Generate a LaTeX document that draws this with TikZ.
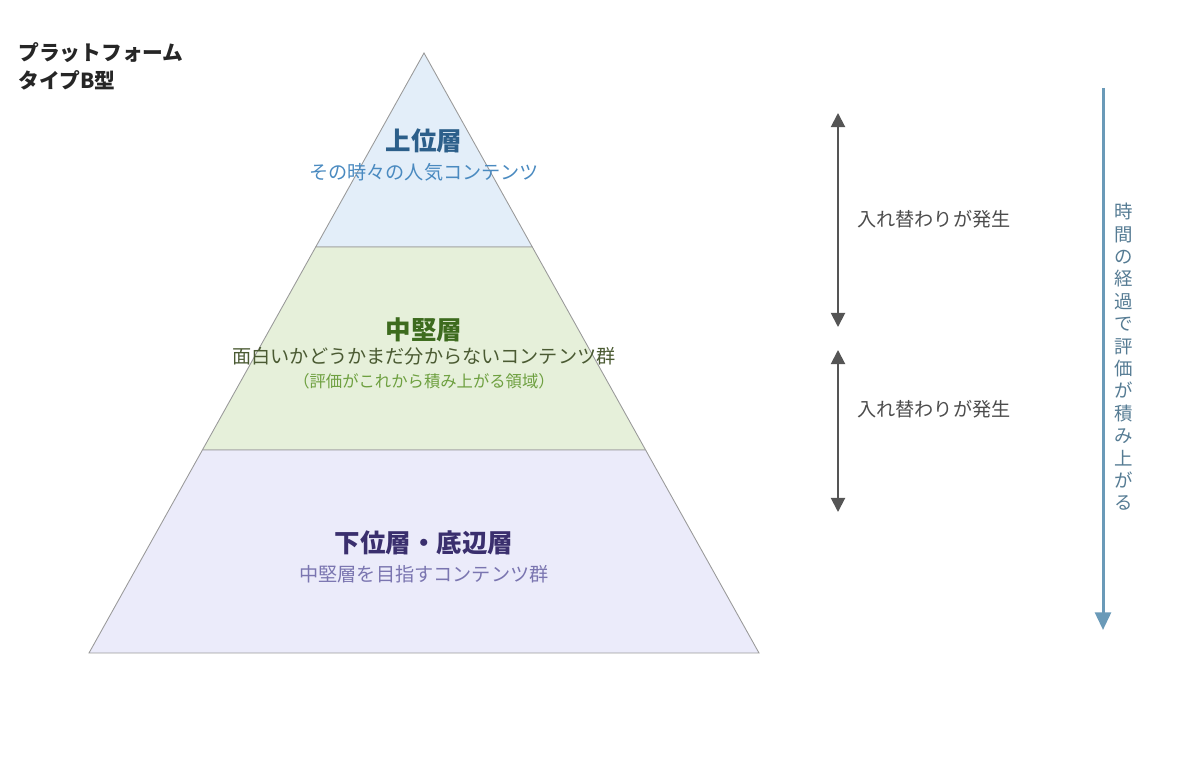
\documentclass[tikz,border=0pt]{standalone}
\usepackage{fontspec}
\setmainfont{Noto Sans CJK JP}
\usetikzlibrary{arrows.meta}

\definecolor{topfill}{HTML}{E3EEF9}
\definecolor{midfill}{HTML}{E6F0DA}
\definecolor{lowfill}{HTML}{EBEBFA}
\definecolor{edgegray}{HTML}{9A9A9A}
\definecolor{topdark}{HTML}{2C5F8A}
\definecolor{toplight}{HTML}{4A8AC0}
\definecolor{middark}{HTML}{3D6B1E}
\definecolor{midtext}{HTML}{4A5A32}
\definecolor{midlight}{HTML}{6EA040}
\definecolor{lowdark}{HTML}{3A2F6E}
\definecolor{lowlight}{HTML}{7A75B0}
\definecolor{swapgray}{HTML}{555555}
\definecolor{timeblue}{HTML}{6A9AB8}

\tikzset{
  layer/.style={draw=edgegray,line width=0.5pt},
  heading/.style={font=\fontsize{14.5}{17}\selectfont\bfseries,inner sep=0pt},
  subline/.style={font=\fontsize{10.9}{13}\selectfont,inner sep=0pt},
  swaparrow/.style={swapgray,line width=1.1pt,{Triangle[width=8pt,length=8pt]}-{Triangle[width=8pt,length=8pt]}},
  swaplabel/.style={font=\fontsize{10.9}{13}\selectfont,text=swapgray!90!black,inner sep=0pt,anchor=west},
}

\begin{document}
\begin{tikzpicture}[x=0.02cm,y=-0.02cm]
  \useasboundingbox (0,0) rectangle (1200,759);

  % title
  \node[font=\fontsize{11.8}{15.8}\selectfont\bfseries,text=black!85,align=left,anchor=north west,inner sep=0pt] (title) at (18,42) {プラットフォーム\\タイプB型};

  % pyramid layers
  \coordinate (apex) at (424,53);
  \coordinate (tl) at (315.7,247);
  \coordinate (tr) at (532.3,247);
  \coordinate (ml) at (202.4,450);
  \coordinate (mr) at (645.6,450);
  \coordinate (bl) at (89,653);
  \coordinate (br) at (759,653);
  \draw[layer,fill=topfill] (apex) -- (tr) -- (tl) -- cycle;
  \draw[layer,fill=midfill] (tl) -- (tr) -- (mr) -- (ml) -- cycle;
  \draw[layer,fill=lowfill] (ml) -- (mr) -- (br) -- (bl) -- cycle;

  % top layer text
  \node[heading,text=topdark] (tophead) at (424,141) {上位層};
  \node[subline,text=toplight] (topsub) at (424,172) {その時々の人気コンテンツ};

  % middle layer text
  \node[heading,text=middark] (midhead) at (424,330) {中堅層};
  \node[subline,text=midtext] (midsub) at (424,356) {面白いかどうかまだ分からないコンテンツ群};
  \node[font=\fontsize{9.3}{11}\selectfont,text=midlight,inner sep=0pt] (midnote) at (424,381) {（評価がこれから積み上がる領域）};

  % lower layer text
  \node[heading,text=lowdark] (lowhead) at (424,543) {下位層・底辺層};
  \node[subline,text=lowlight] (lowsub) at (424,574) {中堅層を目指すコンテンツ群};

  % swap arrows
  \coordinate (swapAtop) at (838,113);
  \coordinate (swapAbot) at (838,327);
  \coordinate (swapBtop) at (838,350);
  \coordinate (swapBbot) at (838,512);
  \draw[swaparrow] (swapAtop) -- (swapAbot);
  \draw[swaparrow] (swapBtop) -- (swapBbot);
  \node[swaplabel] (swapAlabel) at (857,219) {入れ替わりが発生};
  \node[swaplabel] (swapBlabel) at (857,409) {入れ替わりが発生};

  % time arrow
  \coordinate (timetop) at (1103,88);
  \coordinate (timebot) at (1103,630);
  \draw[timeblue,line width=1.7pt,-{Triangle[width=9pt,length=10pt]}] (timetop) -- (timebot);
  \node[font=\fontsize{10.5}{12.75}\selectfont,text=timeblue!80!black,align=center,inner sep=0pt] (timelabel) at (1124,357)
    {時\\間\\の\\経\\過\\で\\評\\価\\が\\積\\み\\上\\が\\る};
\end{tikzpicture}
\end{document}
